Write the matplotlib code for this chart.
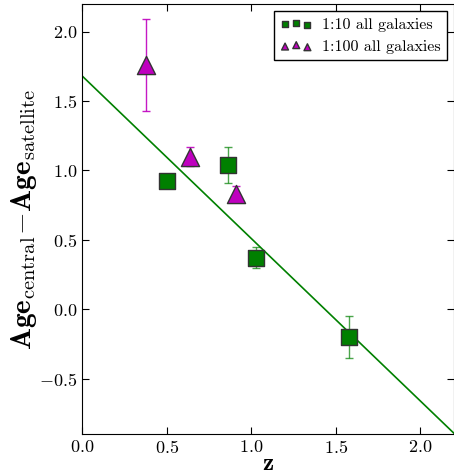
import numpy as np
import matplotlib
matplotlib.use('Agg')
import matplotlib.pyplot as plt

plt.rcParams['font.family'] = 'serif'
plt.rcParams['font.serif'] = ['cmr10']
plt.rcParams['mathtext.fontset'] = 'cm'
plt.rcParams['axes.formatter.use_mathtext'] = True
plt.rcParams['xtick.direction'] = 'in'
plt.rcParams['ytick.direction'] = 'in'

# 1:10 all galaxies
z10 = [0.50, 0.86, 1.03, 1.58]
age10 = [0.92, 1.04, 0.37, -0.20]
err10 = [0.04, 0.13, 0.075, 0.15]

# 1:100 all galaxies
z100 = [0.38, 0.64, 0.91]
age100 = [1.76, 1.10, 0.83]
err100 = [0.33, 0.07, 0.06]

# linear fit
fit_a = 1.68
fit_b = -1.17

fig = plt.figure(figsize=(4.54, 4.75), dpi=100)
ax = fig.add_axes([0.181, 0.086, 0.819, 0.906])

zz = np.array([0.0, 2.2])
ax.plot(zz, fit_a + fit_b * zz, color='g', lw=1.2, zorder=1)

ax.errorbar(z10, age10, yerr=err10, fmt='none', ecolor='g', alpha=0.7,
            capsize=3, elinewidth=1, zorder=2)
ax.errorbar(z100, age100, yerr=err100, fmt='none', ecolor='m', alpha=0.9,
            capsize=3, elinewidth=1, zorder=2)
ax.scatter(z10, age10, s=125, marker='s', c='g', edgecolors='0.2',
           linewidths=1, zorder=3, label='1:10 all galaxies')
ax.scatter(z100, age100, s=170, marker='^', c='m', edgecolors='0.2',
           linewidths=1, zorder=3, label='1:100 all galaxies')

fmt = matplotlib.ticker.FuncFormatter(lambda v, p: r'$%.1f$' % v)
ax.set_xlim(0, 2.2)
ax.set_ylim(-0.9, 2.2)
ax.set_xticks([0.0, 0.5, 1.0, 1.5, 2.0])
ax.set_yticks([-0.5, 0.0, 0.5, 1.0, 1.5, 2.0])
ax.xaxis.set_major_formatter(fmt)
ax.yaxis.set_major_formatter(fmt)
ax.tick_params(labelsize=13, top=True, right=True, length=5, width=0.8)

ax.set_xlabel(r'$\mathbf{z}$', fontsize=18, labelpad=-2)
ax.set_ylabel(r'$\mathbf{Age}_{\rm central}\!-\!\mathbf{Age}_{\rm satellite}$',
              fontsize=21, labelpad=0)

leg = ax.legend(loc='upper right', scatterpoints=3, markerscale=0.38,
                fontsize=11.5, fancybox=False, framealpha=1,
                handletextpad=0.6, borderaxespad=0.45)
leg.get_frame().set_edgecolor('black')

fig.savefig('out.png', dpi=100)
